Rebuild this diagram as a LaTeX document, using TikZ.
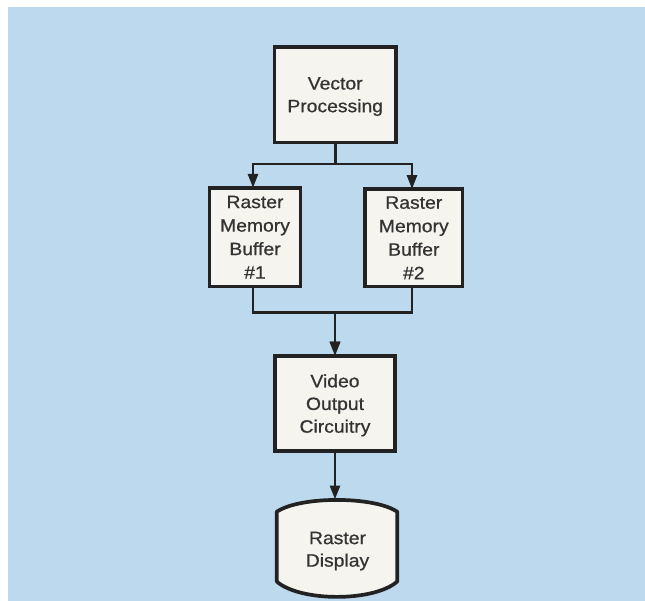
\documentclass[tikz,border=0pt]{standalone}
\usepackage{fontspec}
\setmainfont[FakeStretch=1.08,FakeBold=0.7]{Liberation Sans}
\usetikzlibrary{arrows.meta,calc}
\definecolor{bgblue}{HTML}{BCD9EE}
\definecolor{boxfill}{HTML}{F6F4EF}
\definecolor{ink}{HTML}{222222}
\definecolor{txt}{HTML}{333333}
\begin{document}
\begin{tikzpicture}[x=1pt,y=-1pt,
  box/.style={draw=ink, line width=3.7pt, fill=boxfill, inner sep=0pt, outer sep=0pt,
    align=center, text=txt, font=\fontsize{17.9}{22.7}\selectfont, text depth=0pt},
  rmbox/.style={box, font=\fontsize{17.9}{23.5}\selectfont},
  lbl/.style={align=center, text=txt, font=\fontsize{17.9}{22.5}\selectfont, text depth=0pt, inner sep=0pt},
  conn/.style={draw=ink, line width=2.8pt, line join=miter},
  arr/.style={conn, -{Triangle[length=14pt,width=10pt]}},
  dispshape/.style={draw=ink, line width=3.7pt, fill=boxfill, line join=round}]
\useasboundingbox (0,0) rectangle (645,601);
\fill[white] (0,0) rectangle (645,601);
\fill[bgblue] (8,7.5) rectangle (645,601);

\node[box, minimum width=121.5pt, minimum height=95.5pt] (vp) at (335.2,94.7) {Vector\\Processing};
\node[rmbox, minimum width=91pt, minimum height=98.8pt] (rm1) at (255,237.2) {Raster\\Memory\\Buffer\\\#1};
\node[rmbox, minimum width=97.5pt, minimum height=97.5pt] (rm2) at (413.8,237.8) {Raster\\Memory\\Buffer\\\#2};
\node[box, minimum width=120.5pt, minimum height=95.5pt] (vo) at (335,403.5) {Video\\Output\\Circuitry};

% display shape
\coordinate (dnw) at (276.75,511.75);
\coordinate (dne) at (397.25,511.75);
\coordinate (dse) at (397.25,581.5);
\coordinate (dsw) at (276.75,581.5);
\coordinate (dtop) at (335,499.5);
\draw[dispshape] (dnw) .. controls (300,496) and (374,496) .. (dne) -- (dse)
  .. controls (374,602) and (300,602) .. (dsw) -- cycle;
\node[lbl] (rd) at (337.5,549.2) {Raster\\Display};

% split
\coordinate (sl) at (253,164);
\coordinate (sr) at (412,164);
\draw[arr] (vp.south) |- (sl) -- (sl |- rm1.north);
\draw[arr] (vp.south) |- (sr) -- (sr |- rm2.north);

% merge
\coordinate (ml) at (253,312.7);
\coordinate (mr) at (412,312.7);
\draw[arr] (rm1.south -| ml) -- (ml) -| (vo.north);
\draw[arr] (rm2.south -| mr) -- (mr) -| (vo.north);

% to display
\draw[arr] (vo.south) -- (vo.south |- dtop);
\end{tikzpicture}
\end{document}
